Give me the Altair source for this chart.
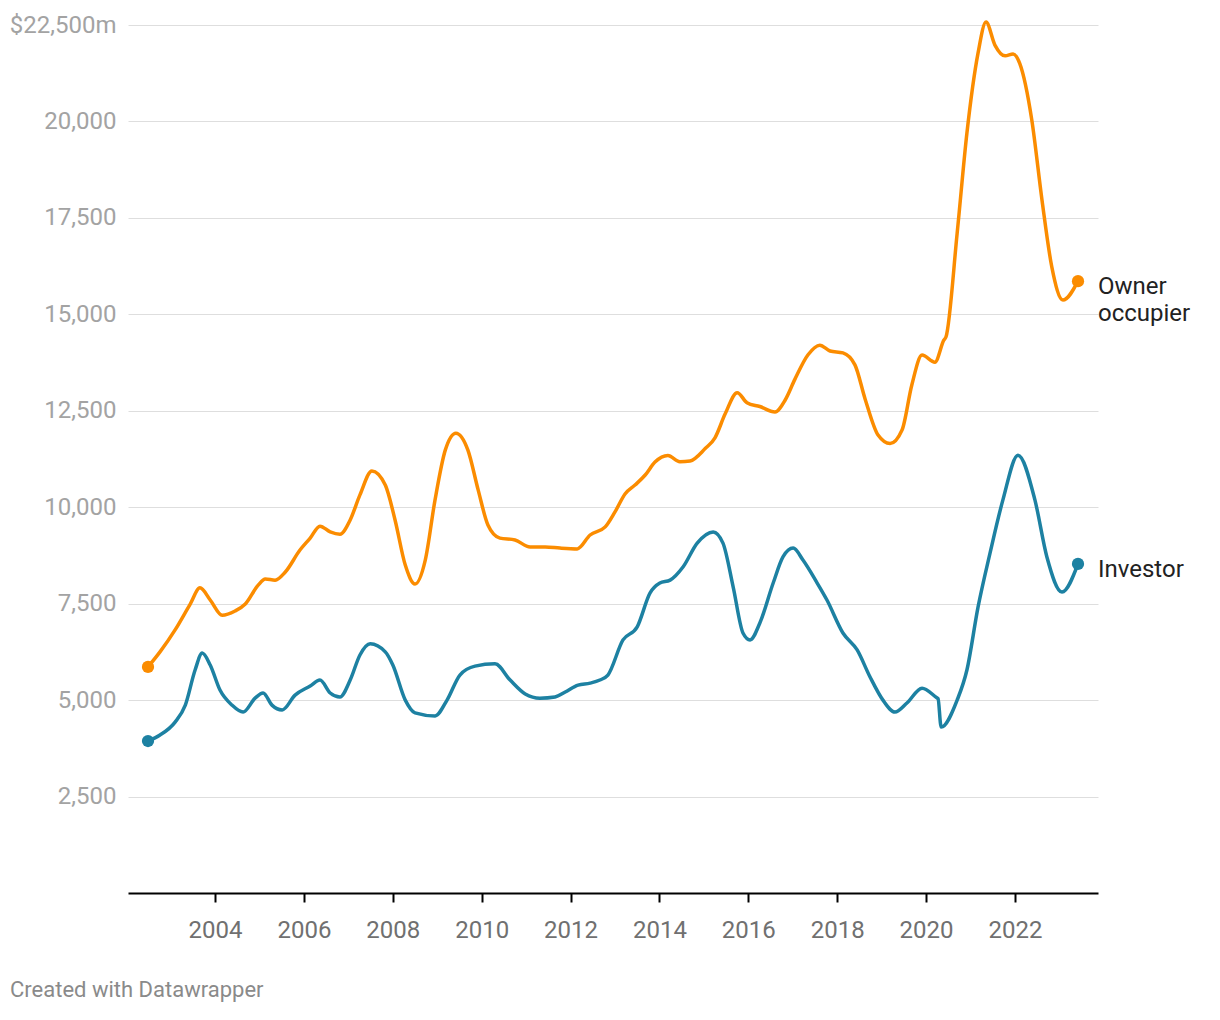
import altair as alt
import pandas as pd

# ---- data ----
owner_years = [2002.49, 2002.76, 2003.10, 2003.44, 2003.66, 2003.89, 2004.16, 2004.45, 2004.68, 2004.97,
               2005.13, 2005.35, 2005.58, 2005.91, 2006.14, 2006.36, 2006.59, 2006.81, 2007.04, 2007.26,
               2007.53, 2007.83, 2008.05, 2008.28, 2008.50, 2008.73, 2008.95, 2009.18, 2009.42, 2009.69,
               2009.92, 2010.14, 2010.41, 2010.75, 2011.09, 2011.43, 2011.76, 2012.15, 2012.44, 2012.78,
               2013.00, 2013.23, 2013.45, 2013.68, 2013.90, 2014.19, 2014.46, 2014.69, 2015.03, 2015.25,
               2015.48, 2015.75, 2015.97, 2016.26, 2016.60, 2016.83, 2017.05, 2017.34, 2017.61, 2017.84,
               2018.13, 2018.40, 2018.63, 2018.92, 2019.19, 2019.46, 2019.68, 2019.91, 2020.20, 2020.40,
               2020.45, 2020.70, 2020.92, 2021.17, 2021.35, 2021.55, 2021.78, 2021.96, 2022.11, 2022.38,
               2022.61, 2022.83, 2023.08, 2023.42]
owner_values = [5860, 6250, 6820, 7490, 7910, 7595, 7200, 7310, 7490, 7980,
                8140, 8110, 8320, 8890, 9200, 9510, 9360, 9300, 9670, 10320,
                10940, 10575, 9670, 8500, 8010, 8630, 10190, 11480, 11920, 11480,
                10450, 9540, 9200, 9150, 8970, 8970, 8940, 8920, 9280, 9490,
                9880, 10350, 10575, 10835, 11170, 11340, 11180, 11200, 11520, 11800,
                12420, 12970, 12710, 12610, 12470, 12780, 13320, 13945, 14200, 14050,
                14000, 13690, 12800, 11870, 11650, 12000, 13170, 13945, 13760, 14330,
                14420, 17100, 19700, 21770, 22580, 21980, 21700, 21750, 21500, 20040,
                17960, 16230, 15370, 15860]

investor_years = [2002.49, 2002.76, 2003.10, 2003.33, 2003.55, 2003.71, 2003.89, 2004.11, 2004.38, 2004.63,
                  2004.90, 2005.08, 2005.28, 2005.51, 2005.80, 2006.14, 2006.36, 2006.59, 2006.81, 2007.04,
                  2007.26, 2007.49, 2007.83, 2008.00, 2008.28, 2008.50, 2008.95, 2009.22, 2009.51, 2009.85,
                  2010.30, 2010.64, 2010.98, 2011.31, 2011.65, 2011.88, 2012.17, 2012.44, 2012.66, 2012.84,
                  2013.18, 2013.50, 2013.79, 2014.01, 2014.24, 2014.53, 2014.85, 2015.21, 2015.43, 2015.66,
                  2015.88, 2016.04, 2016.26, 2016.56, 2016.78, 2017.01, 2017.23, 2017.55, 2017.77, 2018.13,
                  2018.45, 2018.74, 2019.03, 2019.30, 2019.57, 2019.91, 2020.25, 2020.27, 2020.34, 2020.70,
                  2020.92, 2021.17, 2021.44, 2021.73, 2022.07, 2022.45, 2022.72, 2023.06, 2023.42]
investor_values = [3940, 4095, 4430, 4870, 5780, 6220, 5910, 5260, 4870, 4690,
                   5050, 5185, 4870, 4745, 5130, 5365, 5520, 5185, 5080, 5520,
                   6170, 6460, 6250, 5910, 5000, 4670, 4590, 5000, 5650, 5880,
                   5940, 5520, 5160, 5050, 5080, 5210, 5390, 5440, 5520, 5650,
                   6560, 6900, 7780, 8035, 8110, 8450, 9070, 9360, 9070, 7930,
                   6740, 6560, 7000, 8035, 8710, 8940, 8630, 8035, 7595, 6740,
                   6300, 5600, 5000, 4690, 4925, 5310, 5055, 5040, 4300, 5000,
                   5780, 7410, 8810, 10190, 11350, 10190, 8710, 7800, 8530]

series_names = ["Owner occupier", "Investor"]
series_labels = ["Owner\noccupier", "Investor"]
series_colors = ["#fb8c00", "#1d81a2"]

y_ticks = [2500, 5000, 7500, 10000, 12500, 15000, 17500, 20000, 22500]
x_ticks = [2004, 2006, 2008, 2010, 2012, 2014, 2016, 2018, 2020, 2022]
credit = ["Created with Datawrapper"]

# ---- tables ----
df = pd.concat([
    pd.DataFrame({"year": owner_years, "value": owner_values, "series": series_names[0]}),
    pd.DataFrame({"year": investor_years, "value": investor_values, "series": series_names[1]}),
], ignore_index=True)

ends = pd.DataFrame({
    "year": [owner_years[0], owner_years[-1], investor_years[0], investor_years[-1]],
    "value": [owner_values[0], owner_values[-1], investor_values[0], investor_values[-1]],
    "series": [series_names[0], series_names[0], series_names[1], series_names[1]],
})
last = pd.DataFrame({
    "year": [owner_years[-1], investor_years[-1]],
    "value": [owner_values[-1], investor_values[-1]],
    "series": series_names,
    "label": series_labels,
})

color_scale = alt.Scale(domain=series_names, range=series_colors)

x_enc = alt.X(
    "year:Q",
    scale=alt.Scale(domain=[2002.04, 2023.87], nice=False, zero=False),
    axis=alt.Axis(values=x_ticks, format="d", title=None, grid=False,
                  domainColor="#000000", domainWidth=2,
                  tickColor="#000000", tickWidth=2, tickSize=9,
                  labelFontSize=24, labelColor="#707070", labelPadding=16,
                  labelFont="Roboto", labelFlush=False),
)
y_enc = alt.Y(
    "value:Q",
    scale=alt.Scale(domain=[0, 22500], nice=False),
    axis=alt.Axis(values=y_ticks, title=None, domain=False, ticks=False, tickSize=0,
                  grid=True, gridColor="#dedede", gridWidth=1,
                  labelFontSize=24, labelColor="#a3a3a3", labelPadding=12,
                  labelFont="Roboto", labelBaseline="middle",
                  labelExpr="datum.value == 22500 ? '$22,500m' : format(datum.value, ',')"),
)

lines = alt.Chart(df).mark_line(interpolate="monotone", strokeWidth=3.5).encode(
    x=x_enc, y=y_enc,
    color=alt.Color("series:N", scale=color_scale, legend=None),
    detail="series:N",
)

points = alt.Chart(ends).mark_circle(size=150, opacity=1).encode(
    x="year:Q", y="value:Q",
    color=alt.Color("series:N", scale=color_scale, legend=None),
)

labels = alt.Chart(last).mark_text(
    align="left", baseline="alphabetic", dx=20, dy=13,
    fontSize=24, font="Roboto", color="#222222", lineBreak="\n", lineHeight=27,
).encode(x="year:Q", y="value:Q", text="label:N")

footer = alt.Chart(pd.DataFrame({"t": credit})).mark_text(
    align="left", baseline="alphabetic", fontSize=22, font="Roboto", color="#8a8a8a",
).encode(text="t:N", x=alt.value(-118), y=alt.value(972))

chart = alt.layer(lines, points, labels, footer).properties(
    width=970, height=868,
    autosize=alt.AutoSizeParams(type="none"),
    padding={"left": 128, "top": 25, "right": 122, "bottom": 127},
    background="white",
).configure_view(stroke=None)

chart.save("out.html", embed_options={"renderer": "svg", "actions": False})
